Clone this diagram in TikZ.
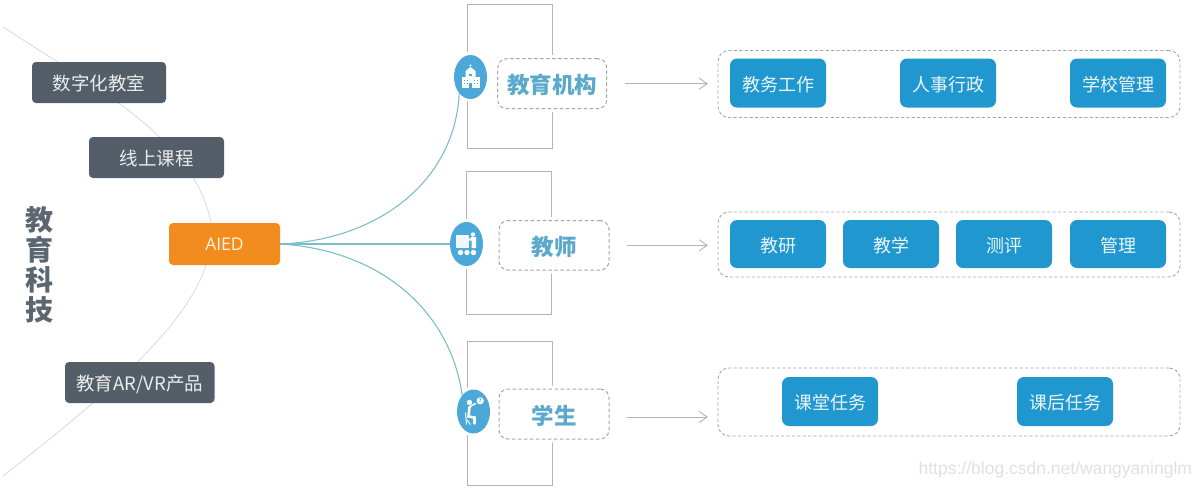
\documentclass[tikz,border=0pt]{standalone}
\usepackage{fontspec}
\setmainfont{Noto Sans CJK SC}
\newfontfamily\latinfont{Open Sans}
\newfontfamily\wmfont{Liberation Sans}
\usetikzlibrary{arrows.meta,shapes.geometric,backgrounds,calc}
\definecolor{darkbox}{HTML}{545E68}
\definecolor{titlegray}{HTML}{5C666F}
\definecolor{orangebox}{HTML}{F28C1E}
\definecolor{bluebox}{HTML}{2098CF}
\definecolor{iconblue}{HTML}{4BA8D8}
\definecolor{headblue}{HTML}{5BAACB}
\definecolor{tealline}{HTML}{7DBDC8}
\definecolor{grayline}{HTML}{B4B4B4}
\definecolor{dashgray}{HTML}{A6A6A6}
\definecolor{btntext}{HTML}{EAF5F8}
\tikzset{
  x=1pt,y=-1pt,
  basebox/.style={inner sep=0pt,outer sep=0pt,align=center},
  darknode/.style={basebox,fill=darkbox,rounded corners=4pt,minimum height=41pt,text=white!88!darkbox,text height=16pt,text depth=0pt,font=\fontsize{18.5}{20}\selectfont},
  aiednode/.style={basebox,fill=orangebox,rounded corners=4pt,minimum width=111pt,minimum height=42pt,text=white!90!orangebox,font=\latinfont\fontsize{17.5}{20}\selectfont},
  btn/.style={basebox,fill=bluebox,rounded corners=7pt,minimum width=96pt,text=btntext,text height=16pt,text depth=0pt,font=\fontsize{18}{20}\selectfont},
  panel/.style={basebox,draw=dashgray,line width=0.9pt,dash pattern=on 3.2pt off 2.2pt,rounded corners=11pt,minimum width=462pt},
  catbox/.style={basebox,draw=dashgray,line width=1pt,dash pattern=on 3.5pt off 2.5pt,fill=white,rounded corners=9pt,
     preaction={draw=white,solid,line width=7pt},text=headblue,text height=20pt,text depth=0pt,font=\bfseries\fontsize{22.5}{26}\selectfont},
  bracket/.style={basebox,draw=grayline,line width=1.1pt,minimum width=84.5pt,minimum height=143.5pt},
  iconnode/.style={basebox,ellipse,fill=iconblue,minimum width=33pt,minimum height=44pt,preaction={draw=white,line width=6pt}},
  teal/.style={draw=tealline,line width=1.1pt},
  greycurve/.style={draw=black!15,line width=0.8pt},
  flow/.style={draw=grayline,line width=0.9pt,-{Straight Barb[length=8pt,width=11pt]},shorten >=10pt,shorten <=18pt},
}
\begin{document}
\begin{tikzpicture}
\useasboundingbox (0,0) rectangle (1200,488);
% side title
\node[basebox,text=titlegray,font=\bfseries\fontsize{28}{30}\selectfont] (title) at (39,265) {教\\育\\科\\技};
% left items
\node[darknode,minimum width=134pt] (digital) at (99,82.5) {数字化教室};
\node[darknode,minimum width=135pt] (online) at (156.5,157.5) {线上课程};
\node[aiednode] (aied) at (224.5,244) {AIED};
\node[darknode,minimum width=149.5pt] (arvr) at (139.75,382.5) {教育AR/VR产品};
% brackets
\node[bracket] (br1) at (509.9,76.3) {};
\node[bracket] (br2) at (508.9,243) {};
\node[bracket] (br3) at (510.1,413.4) {};
% category boxes
\node[catbox,minimum width=109pt,minimum height=50pt] (cat1) at (552.2,83.7) {教育机构};
\node[catbox,minimum width=110pt,minimum height=49.5pt] (cat2) at (554,245.3) {教师};
\node[catbox,minimum width=110pt,minimum height=50pt] (cat3) at (554,414) {学生};
% icon discs
\node[iconnode] (ic1) at (470.5,77) {};
\node[iconnode] (ic2) at (466.5,244) {};
\node[iconnode] (ic3) at (473.5,411.5) {};
% school icon
\begin{scope}[shift={(ic1.center)}]
  \fill[white] (-9,0) rectangle (9,11);
  \fill[white] (-5,-6) -- (0,-10) -- (5,-6) -- (5,2) -- (-5,2) -- cycle;
  \fill[white] (0,-11.5) circle (1.2);
  \fill[iconblue] (-1.2,6) rectangle (1.2,11);
  \fill[iconblue] (-1.2,-3.5) rectangle (1.2,-1);
  \foreach \wx in {-7,-4,3,6} \foreach \wy in {2.5,6} \fill[iconblue] (\wx,\wy) rectangle (\wx+1.1,\wy+1.4);
\end{scope}
% teacher icon
\begin{scope}[shift={(ic2.center)}]
  \fill[white!92!iconblue] (-10.5,-9) rectangle (2.5,4);
  \fill[white] (6.5,-9.5) circle (2.2);
  \fill[white] (4,-7) -- (9.5,-7) -- (9.5,4) -- (5,4) -- (5,-3.5) -- (2.5,-3.5) -- (2.5,-5.5) -- (4,-5.5) -- cycle;
  \foreach \wx in {-6,0.5,7} \fill[white] (\wx,8.5) circle (2.7);
\end{scope}
% student icon
\begin{scope}[shift={(ic3.center)}]
  \fill[white] (-4,-9) circle (2.7);
  \fill[white] (6.7,-10.7) circle (3.6);
  \node[basebox,text=iconblue,font=\bfseries\fontsize{5}{5}\selectfont] (qmark) at (6.7,-10.7) {?};
  \draw[white,line width=2.6pt,line cap=round] (-4,-4.5) -- (-5,5) -- (1,6) -- (1,12);
  \draw[white,line width=1.5pt,line cap=round] (-4,-4.5) -- (2,-8);
  \draw[white,line width=1pt] (-8,1) -- (-7,13);
  \draw[white,line width=1pt] (-6.5,8.5) -- (-3,13);
\end{scope}
% right panels
\node[panel,minimum height=67pt] (p1) at (949,84) {};
\node[panel,minimum height=65pt] (p2) at (949,244.5) {};
\node[panel,minimum height=68pt] (p3) at (949,402) {};
\node[btn,minimum height=49pt] (b11) at (778,83) {教务工作};
\node[btn,minimum height=49pt] (b12) at (948,83) {人事行政};
\node[btn,minimum height=49pt] (b13) at (1118,83) {学校管理};
\node[btn,minimum height=48pt] (b21) at (778,244) {教研};
\node[btn,minimum height=48pt] (b22) at (891,244) {教学};
\node[btn,minimum height=48pt] (b23) at (1004,244) {测评};
\node[btn,minimum height=48pt] (b24) at (1118,244) {管理};
\node[btn,minimum height=49pt] (b31) at (830,401.5) {课堂任务};
\node[btn,minimum height=49pt] (b32) at (1065,401.5) {课后任务};
% watermark
\node[basebox,anchor=east,text=black!12,font=\wmfont\fontsize{17.5}{20}\selectfont] (wm) at (1192,470) {https://blog.csdn.net/wangyaninglm};
% flows
\draw[flow] (cat1.east) -- (cat1.east -| p1.west);
\draw[flow] (cat2.east) -- (cat2.east -| p2.west);
\draw[flow] ([yshift=-3pt]cat3.east) -- ([yshift=-3pt]cat3.east -| p3.west);
% AIED connectors
\draw[teal] (aied.east) .. controls (380,240) and (455,180) .. (ic1.235);
\draw[teal,line width=1.4pt] (aied.east) -- (ic2.west);
\draw[teal] (aied.east) .. controls (380,250) and (450,310) .. (ic3.125);
% thin grey sweep behind the left items
\coordinate (sweepA) at (3,27);
\coordinate (sweepB) at (3,476);
\begin{scope}[on background layer]
  \draw[greycurve] (sweepA) .. controls (100,90) and (195,140) .. ([xshift=-13.5pt]aied.north);
  \draw[greycurve] ([xshift=-18.5pt]aied.south) .. controls (185,330) and (100,400) .. (sweepB);
\end{scope}
\end{tikzpicture}
\end{document}
